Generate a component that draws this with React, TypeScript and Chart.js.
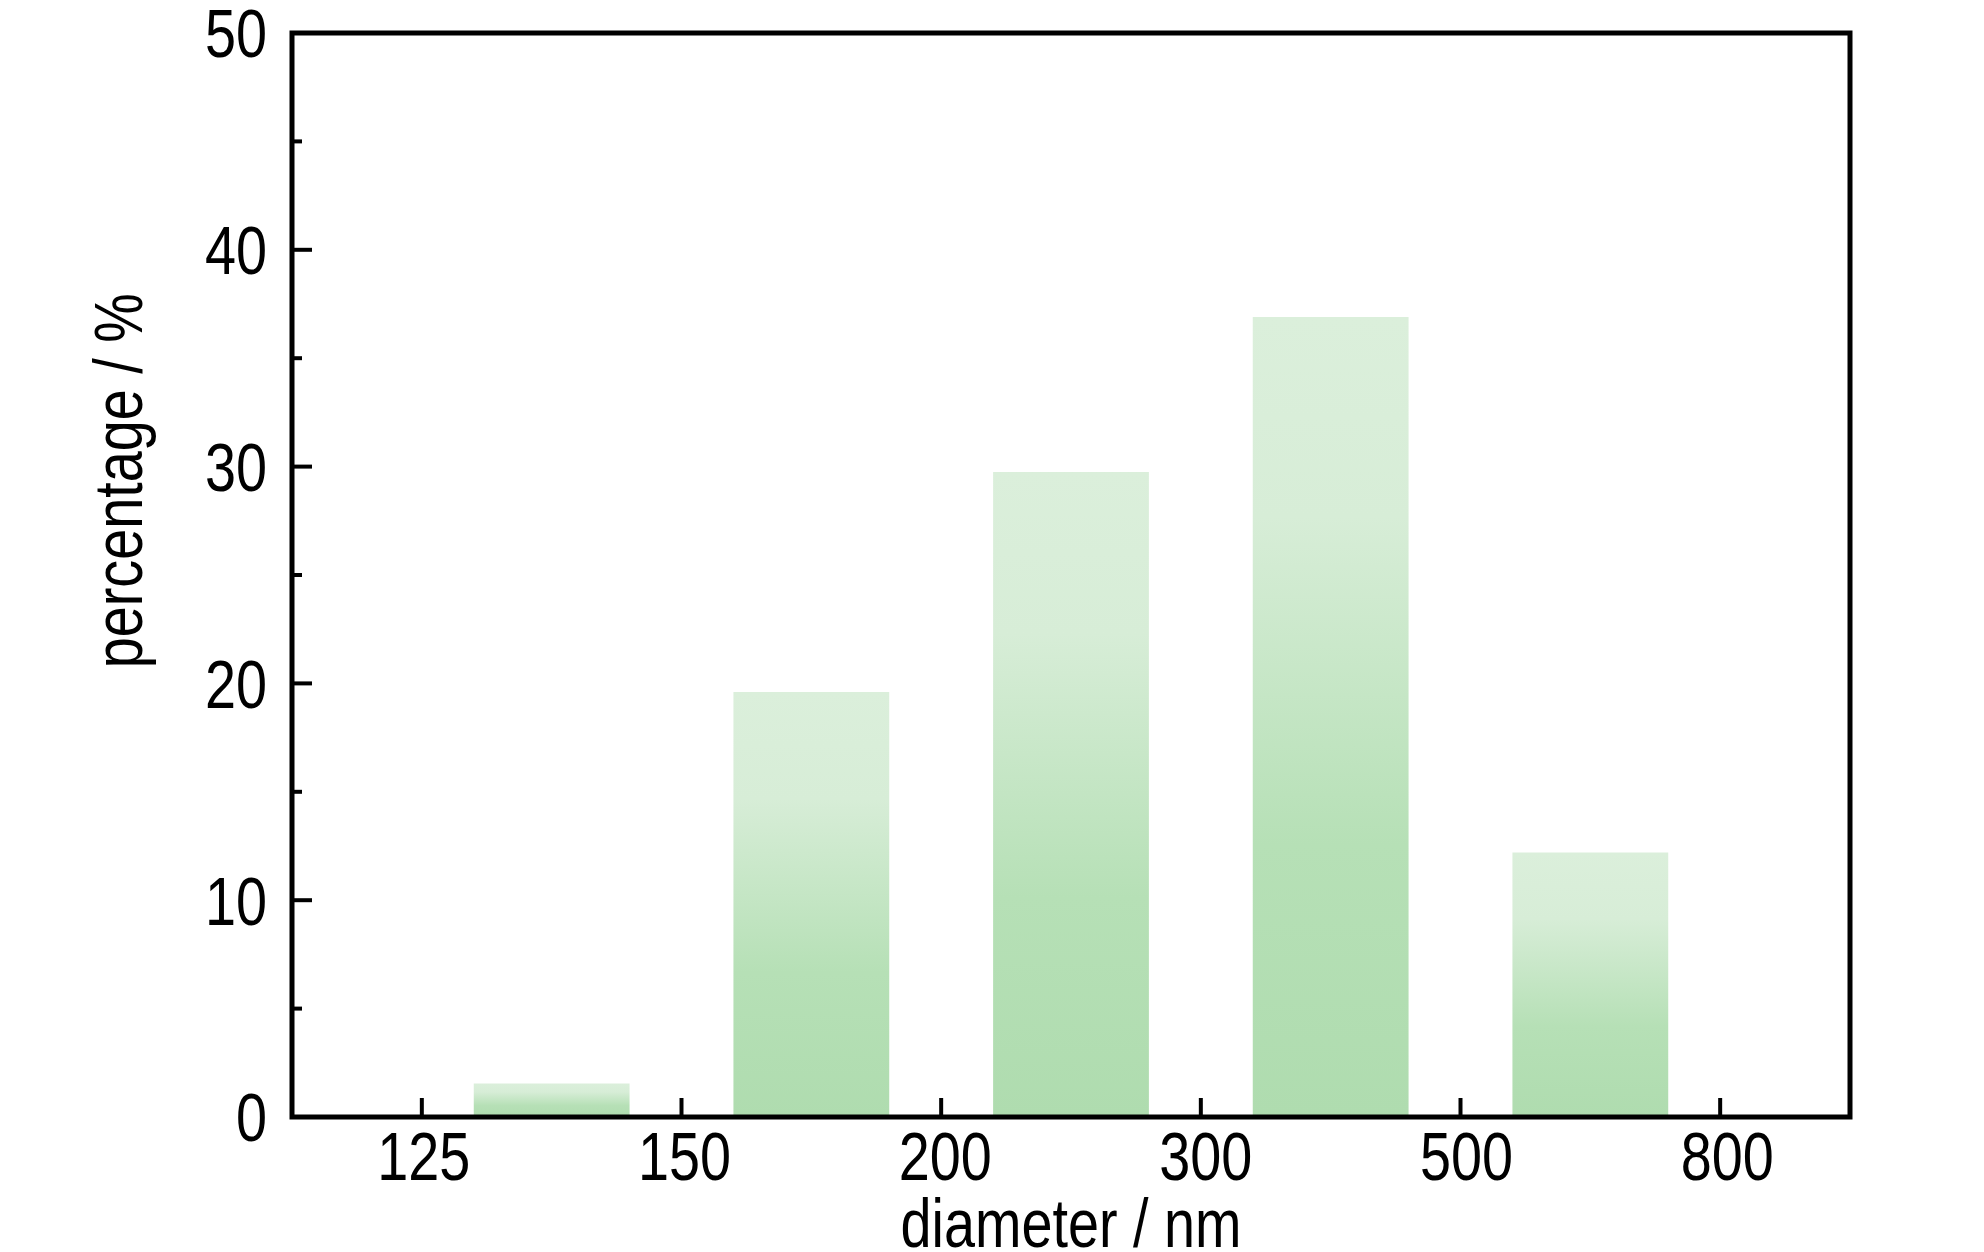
import React, { useEffect, useRef } from 'react';
import { Chart, registerables } from 'chart.js';

Chart.register(...registerables);

// ---- data ----
const binEdgeLabels = ['125', '150', '200', '300', '500', '800'];
const percentages = [1.55, 19.6, 29.75, 36.9, 12.2];
const yMin = 0;
const yMax = 50;
const yMinorStep = 5;
const yMajorStep = 10;
const xTitle = 'diameter / nm';
const yTitle = 'percentage / %';

const FONT_FAMILY = '"Liberation Sans", Arial, sans-serif';
const FONT_SIZE = 68;
const NARROW = 0.82; // Arial Narrow is ~82% of Arial width

function narrowText(ctx: CanvasRenderingContext2D, text: string, x: number, y: number, align: CanvasTextAlign, rotate = 0) {
  ctx.save();
  ctx.translate(x, y);
  if (rotate) ctx.rotate(rotate);
  ctx.scale(NARROW, 1);
  ctx.textAlign = align;
  ctx.textBaseline = 'alphabetic';
  ctx.fillText(text, 0, 0);
  ctx.restore();
}

const framePlugin = {
  id: 'frameAndTicks',
  afterDatasetsDraw(chart: any) {
    const { ctx, chartArea } = chart;
    const xs = chart.scales.x;
    const ys = chart.scales.y;
    ctx.save();
    ctx.strokeStyle = '#000';
    ctx.fillStyle = '#000';
    ctx.font = `${FONT_SIZE}px ${FONT_FAMILY}`;
    // inward tick marks + labels
    ctx.lineWidth = 4;
    ys.ticks.forEach((t: any) => {
      const py = ys.getPixelForValue(t.value);
      const major = Math.abs(t.value % yMajorStep) < 1e-9;
      const len = major ? 20 : 10;
      ctx.beginPath();
      ctx.moveTo(chartArea.left, py);
      ctx.lineTo(chartArea.left + len, py);
      ctx.stroke();
      if (major) narrowText(ctx, String(t.value), chartArea.left - 25, py + 0.358 * FONT_SIZE, 'right');
    });
    xs.ticks.forEach((t: any, i: number) => {
      const px = xs.getPixelForValue(t.value);
      ctx.beginPath();
      ctx.moveTo(px, chartArea.bottom);
      ctx.lineTo(px, chartArea.bottom - 19);
      ctx.stroke();
      const label = binEdgeLabels[i];
      if (label) narrowText(ctx, label, px + 2 + i, chartArea.bottom + 63, 'center');
    });
    // frame
    ctx.lineWidth = 5;
    ctx.strokeRect(chartArea.left, chartArea.top, chartArea.right - chartArea.left, chartArea.bottom - chartArea.top);
    // axis titles
    narrowText(ctx, xTitle, (chartArea.left + chartArea.right) / 2, chart.height - 5, 'center');
    narrowText(ctx, yTitle, 142, chartArea.top + (chartArea.bottom - chartArea.top) * 0.413, 'center', -Math.PI / 2);
    ctx.restore();
  },
};

export default function App() {
  const canvasRef = useRef<HTMLCanvasElement | null>(null);

  useEffect(() => {
    document.body.style.margin = '0';
    const canvas = canvasRef.current;
    if (!canvas) return;
    const chart = new Chart(canvas, {
      type: 'bar',
      data: {
        datasets: [
          {
            data: percentages.map((v, i) => ({ x: i + 0.5, y: v })),
            barPercentage: 0.6,
            categoryPercentage: 1,
            borderWidth: 0,
            backgroundColor: (c: any) => {
              const ch = c.chart;
              if (!ch.chartArea || c.type !== 'data' || !c.raw) return '#c6e7c6';
              const ys = ch.scales.y;
              const top = ys.getPixelForValue(c.raw.y);
              const base = ys.getPixelForValue(0);
              if (!isFinite(top) || !isFinite(base) || top === base) return '#c6e7c6';
              const g = ch.ctx.createLinearGradient(0, top, 0, base);
              g.addColorStop(0, '#dbefdb');
              g.addColorStop(0.25, '#d7edd7');
              g.addColorStop(0.66, '#b6e0b6');
              g.addColorStop(1, '#afdcaf');
              return g;
            },
          },
        ],
      },
      options: {
        animation: false,
        responsive: false,
        maintainAspectRatio: false,
        layout: { padding: { top: 33, right: 134, left: 0, bottom: 0 } },
        plugins: { legend: { display: false }, tooltip: { enabled: false } },
        scales: {
          x: {
            type: 'linear',
            offset: false,
            min: -0.5,
            max: binEdgeLabels.length - 0.5,
            afterBuildTicks: (s: any) => {
              s.ticks = binEdgeLabels.map((_, i) => ({ value: i }));
            },
            afterFit: (s: any) => {
              s.height = 135;
            },
            grid: { display: false },
            border: { display: false },
            ticks: { display: false },
          },
          y: {
            type: 'linear',
            min: yMin,
            max: yMax,
            afterFit: (s: any) => {
              s.width = 292;
            },
            grid: { display: false },
            border: { display: false },
            ticks: { display: false, stepSize: yMinorStep },
          },
        },
      },
      plugins: [framePlugin],
    } as any);
    return () => chart.destroy();
  }, []);

  return (
    <div style={{ width: 1984, height: 1252, background: '#fff' }}>
      <canvas ref={canvasRef} width={1984} height={1252} style={{ width: 1984, height: 1252, display: 'block' }} />
    </div>
  );
}
